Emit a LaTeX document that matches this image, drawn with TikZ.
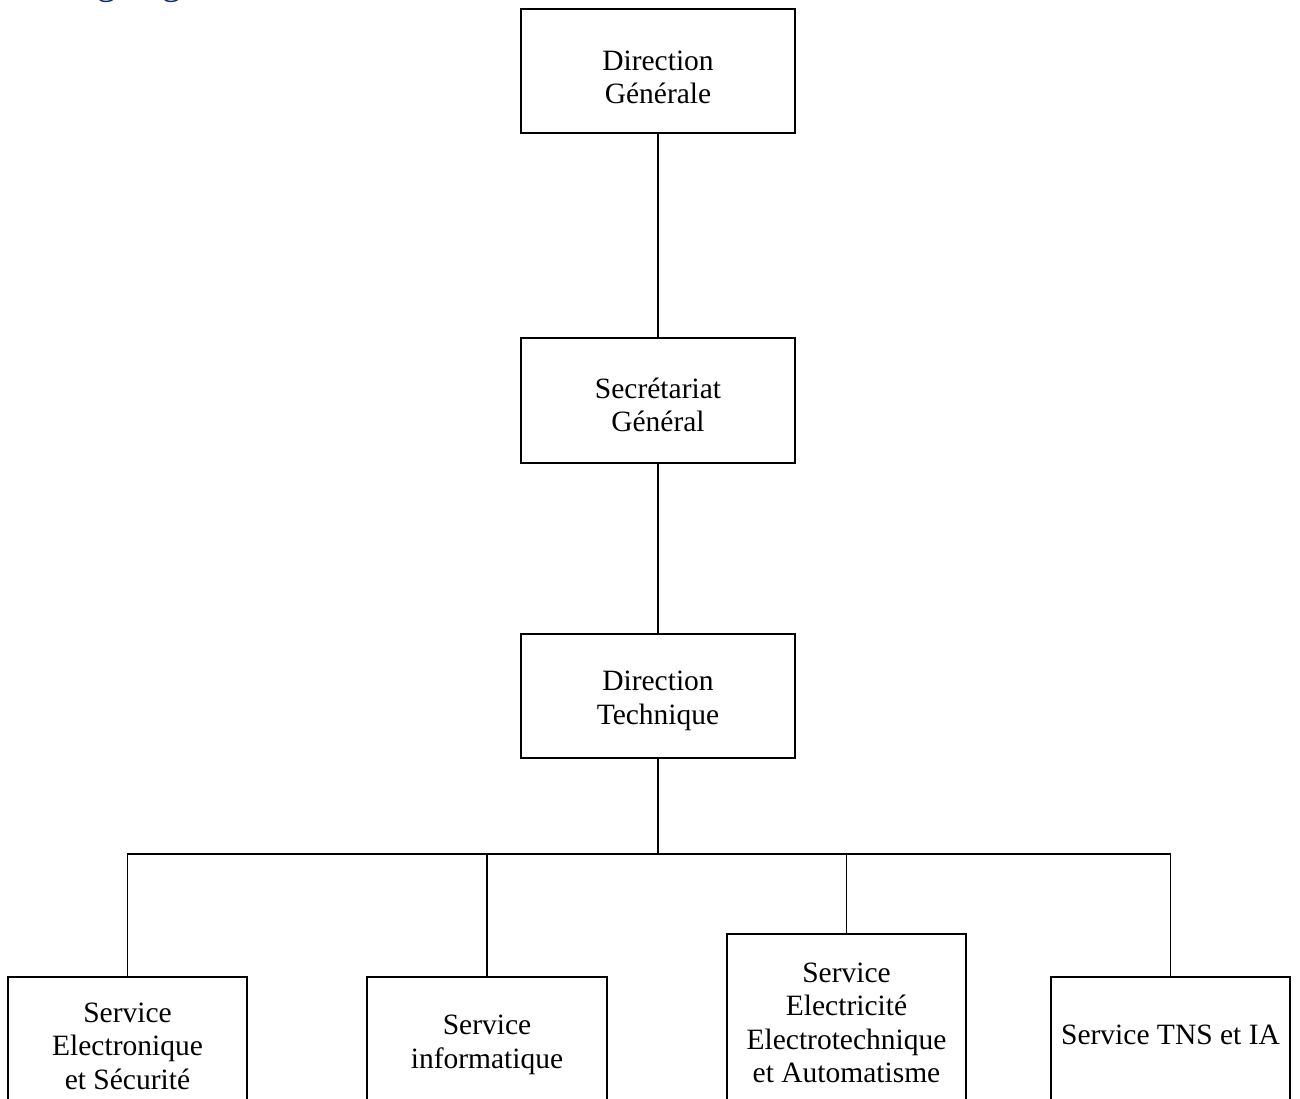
\documentclass[tikz,border=0pt]{standalone}
\usepackage{fontspec}
\setmainfont{Liberation Serif}
\definecolor{headblue}{RGB}{16,46,112}
\begin{document}
\begin{tikzpicture}[x=1pt,y=-1pt,
  box/.style={draw=black,line width=1.3pt,inner sep=0pt,fill=none},
  lbl/.style={align=center,inner sep=0pt,font=\fontsize{29.5}{33.5}\selectfont},
  link/.style={draw=black,line width=1.5pt}]
\useasboundingbox (0,0) rectangle (1300,1098);
\fill[white] (0,0) rectangle (1300,1098);
\begin{scope}
\clip (0,0) rectangle (1300,1098);
% cut-off heading (only descenders visible)
\node[anchor=base west,inner sep=0pt,text=headblue,font=\fontsize{37.7}{40}\selectfont] (head) at (58,-6) {Organigramme};
% boxes
\node[box,minimum width=274pt,minimum height=124pt] (dg) at (658,71) {};
\node[box,minimum width=274pt,minimum height=125pt] (sg) at (658,400.5) {};
\node[box,minimum width=274pt,minimum height=124pt] (dt) at (658,696) {};
\node[box,minimum width=239pt,minimum height=183pt] (b1) at (127.5,1068.5) {};
\node[box,minimum width=240pt,minimum height=183pt] (b2) at (487,1068.5) {};
\node[box,minimum width=239pt,minimum height=226pt] (b3) at (846.5,1047) {};
\node[box,minimum width=239pt,minimum height=183pt] (b4) at (1170.5,1068.5) {};
% labels
\node[lbl] (tdg) at (658,77.5) {Direction\\Générale};
\node[lbl] (tsg) at (658,405) {Secrétariat\\Général};
\node[lbl] (tdt) at (658,701) {Direction\\Technique};
\node[lbl] (tb1) at (127.5,1046) {Service\\Electronique\\et Sécurité};
\node[lbl] (tb2) at (487,1045) {Service\\informatique};
\node[lbl] (tb3) at (846.5,1023) {Service\\Electricité\\Electrotechnique\\et Automatisme};
\node[lbl] (tb4) at (1170.5,1035) {Service TNS et IA};
% connectors
\coordinate (bus) at (658,854);
\draw[link] (dg.south) -- (sg.north);
\draw[link] (sg.south) -- (dt.north);
\draw[link] (dt.south) -- (bus);
\draw[link] (b1.north) -- (b1.north |- bus) -- (b4.north |- bus) -- (b4.north);
\draw[link] (b2.north) -- (b2.north |- bus);
\draw[link] (b3.north) -- (b3.north |- bus);
\end{scope}
\end{tikzpicture}
\end{document}
